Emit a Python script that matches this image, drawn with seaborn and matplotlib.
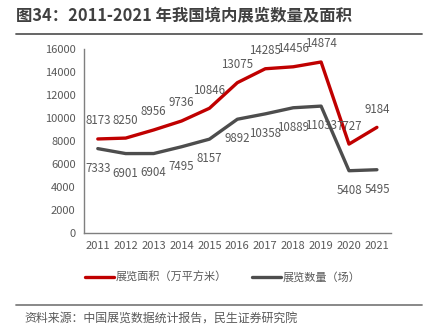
import matplotlib
matplotlib.use("Agg")
import matplotlib.pyplot as plt
import seaborn as sns
import pandas as pd
from matplotlib.lines import Line2D

years = ["2011", "2012", "2013", "2014", "2015", "2016", "2017", "2018", "2019", "2020", "2021"]
area = [8173, 8250, 8956, 9736, 10846, 13075, 14285, 14456, 14874, 7727, 9184]
count = [7333, 6901, 6904, 7495, 8157, 9892, 10358, 10889, 11033, 5408, 5495]
area_name = "展览面积（万平方米）"
count_name = "展览数量（场）"
yticks = [0, 2000, 4000, 6000, 8000, 10000, 12000, 14000, 16000]

sns.set_theme(style="white")
plt.rcParams['font.family'] = ['Noto Sans CJK SC', 'DejaVu Sans']

df = pd.DataFrame({
    "year": years * 2,
    "value": area + count,
    "series": [area_name] * len(years) + [count_name] * len(years),
})

fig = plt.figure(figsize=(4.3, 3.36), dpi=100)
ax = fig.add_axes([0.195, 0.307, 0.714, 0.547])

sns.lineplot(data=df, x="year", y="value", hue="series",
             palette={area_name: "#C00000", count_name: "#4D4D4D"},
             linewidth=2.4, ax=ax, sort=False, legend=False)

txt_col = "#595959"
for i, v in enumerate(area):
    ax.annotate(str(v), (i, v), xytext=(0, 13), textcoords="offset points",
                ha="center", va="center", fontsize=8.3, color=txt_col)
for i, v in enumerate(count):
    ax.annotate(str(v), (i, v), xytext=(0, -14), textcoords="offset points",
                ha="center", va="center", fontsize=8.3, color=txt_col)

ax.set_xlim(-0.5, len(years) - 0.5)
ax.set_ylim(0, 16000)
ax.set_yticks(yticks)
ax.set_yticklabels([str(t) for t in yticks])
ax.set_xlabel("")
ax.set_ylabel("")
ax.tick_params(axis="both", length=0, labelsize=8, labelcolor=txt_col, pad=6)
for s in ["top", "right"]:
    ax.spines[s].set_visible(False)
for s in ["left", "bottom"]:
    ax.spines[s].set_color("#7F7F7F")
    ax.spines[s].set_linewidth(1.0)

handles = [Line2D([], [], color="#C00000", lw=2.4), Line2D([], [], color="#4D4D4D", lw=2.4)]
fig.legend(handles, [area_name, count_name], loc="center", bbox_to_anchor=(0.518, 1 - 277 / 336),
           ncol=2, frameon=False, fontsize=8, handlelength=2.6, handletextpad=0.1,
           columnspacing=2.3, labelcolor=txt_col)

fig.text(0.037, 1 - 16 / 336, "图34：2011-2021 年我国境内展览数量及面积", fontsize=11.8,
         fontweight="bold", color="#404040", va="center", ha="left")
fig.add_artist(Line2D([0.037, 0.982], [1 - 34 / 336, 1 - 34 / 336], color="#595959", lw=1.3))
fig.add_artist(Line2D([0.037, 0.982], [1 - 305 / 336, 1 - 305 / 336], color="#7F7F7F", lw=1.3))
fig.text(0.056, 1 - 318 / 336, "资料来源：中国展览数据统计报告，民生证券研究院", fontsize=8.6,
         color=txt_col, va="center", ha="left")

fig.savefig("out.png", dpi=100)
